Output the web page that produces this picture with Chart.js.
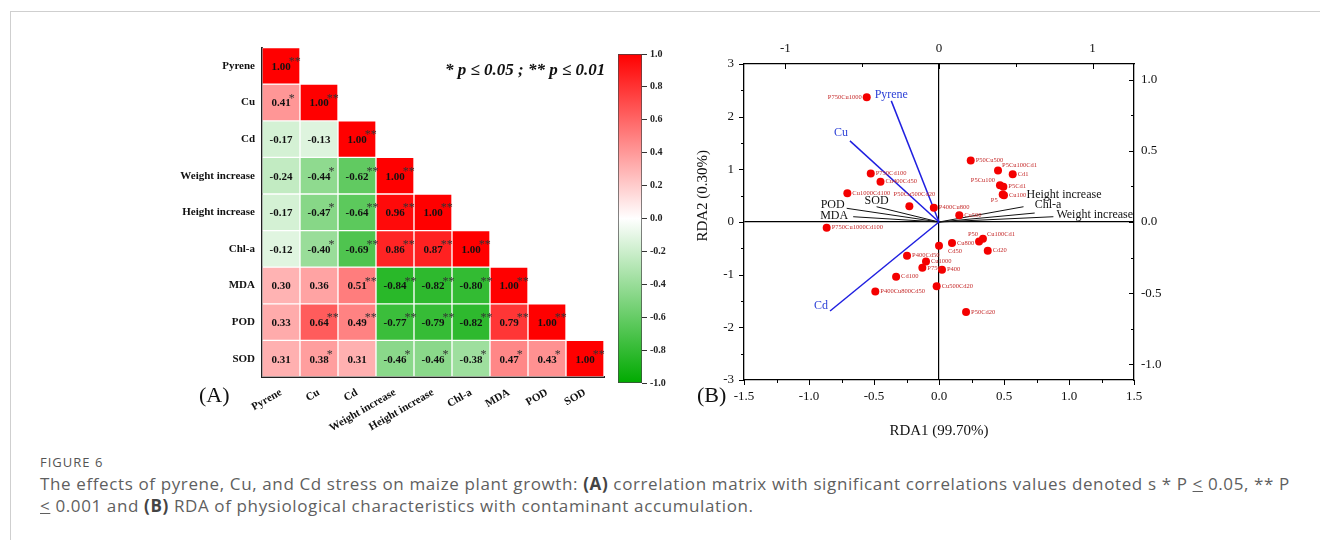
<!DOCTYPE html>
<html>
<head>
<meta charset="utf-8">
<script src="https://cdn.jsdelivr.net/npm/chart.js@4.4.1/dist/chart.umd.min.js"></script>
<style>
html,body{margin:0;padding:0;background:#fff;width:1320px;height:540px;overflow:hidden;}
.abs{position:absolute;}
#frame{left:10px;top:11px;width:1320px;height:540px;border-top:1px solid #cfcfcf;border-left:1px solid #cfcfcf;box-sizing:border-box;}
.serif{font-family:"Liberation Serif","Times New Roman",serif;color:#111;}
#sigNote{left:445px;top:60px;font-size:17px;font-weight:bold;font-style:italic;white-space:nowrap;}
#panelA{left:199px;top:382px;font-size:22px;}
#panelB{left:697px;top:382px;font-size:22px;}
#figt{left:40px;top:453px;font-family:"Open Sans",sans-serif;font-size:13px;color:#555;letter-spacing:1px;}
#capt{left:40px;top:473px;font-family:"Open Sans",sans-serif;font-size:17px;line-height:22px;color:#5f5f5f;white-space:nowrap;}
#capt b{color:#444;}
</style>
</head>
<body>
<div id="frame" class="abs"></div>
<canvas id="matrix" class="abs" style="left:150px;top:34px" width="456" height="406"></canvas>
<canvas id="cbar" class="abs" style="left:610px;top:44px" width="70" height="350"></canvas>
<canvas id="rda" class="abs" style="left:690px;top:30px" width="480" height="410"></canvas>
<div id="sigNote" class="abs serif">* p ≤ 0.05 ; ** p ≤ 0.01</div>
<div id="panelA" class="abs serif">(A)</div>
<div id="panelB" class="abs serif">(B)</div>
<div id="figt" class="abs">FIGURE 6</div>
<div id="capt" class="abs"><span id="line1">The effects of pyrene, Cu, and Cd stress on maize plant growth: <b>(A)</b> correlation matrix with significant correlations values denoted s * P <u>&lt;</u> 0.05, ** P</span><br><u>&lt;</u> 0.001 and <b>(B)</b> RDA of physiological characteristics with contaminant accumulation.</div>
<script>
// ---------------- Panel A data ----------------
const variables = ['Pyrene','Cu','Cd','Weight increase','Height increase','Chl-a','MDA','POD','SOD'];
const corrRows = [
  [1.00],
  [0.41, 1.00],
  [-0.17, -0.13, 1.00],
  [-0.24, -0.44, -0.62, 1.00],
  [-0.17, -0.47, -0.64, 0.96, 1.00],
  [-0.12, -0.40, -0.69, 0.86, 0.87, 1.00],
  [0.30, 0.36, 0.51, -0.84, -0.82, -0.80, 1.00],
  [0.33, 0.64, 0.49, -0.77, -0.79, -0.82, 0.79, 1.00],
  [0.31, 0.38, 0.31, -0.46, -0.46, -0.38, 0.47, 0.43, 1.00]
];
const sigRows = [
  ['**'],
  ['*', '**'],
  ['', '', '**'],
  ['', '*', '**', '**'],
  ['', '*', '**', '**', '**'],
  ['', '*', '**', '**', '**', '**'],
  ['', '', '**', '**', '**', '**', '**'],
  ['', '**', '**', '**', '**', '**', '**', '**'],
  ['', '*', '', '*', '*', '*', '*', '*', '**']
];
const colorbarMin = -1.0;
const colorbarMax = 1.0;
const colorbarStep = 0.2;

// ---------------- Panel B data ----------------
const siteNames = ['P750Cu1000','P750Cd100','Cu400Cd50','Cu1000Cd100','P50Cu500Cd20','P400Cu800','P750Cu1000Cd100',
  'P50Cu500','P5Cu100Cd1','Cd1','P5Cu100','P5Cd1','Cu100','P5','Cu500',
  'P50','Cu100Cd1','Cu800','Cd50','Cd20','P400Cd50','Cu1000','P750','P400','Cd100','Cu500Cd20','P50Cd20','P400Cu800Cd50'];
const siteRDA1 = [-0.556,-0.525,-0.45,-0.705,-0.228,-0.04,-0.864,
  0.244,0.454,0.567,0.469,0.495,0.50,0.49,0.156,
  0.308,0.338,0.10,0.0,0.375,-0.246,-0.10,-0.128,0.023,-0.33,-0.018,0.208,-0.49];
const siteRDA2 = [2.37,0.92,0.765,0.545,0.30,0.27,-0.11,
  1.17,0.98,0.905,0.70,0.67,0.51,0.52,0.13,
  -0.37,-0.32,-0.40,-0.45,-0.545,-0.64,-0.75,-0.87,-0.905,-1.04,-1.22,-1.71,-1.32];
const contaminantNames = ['Pyrene','Cu','Cd'];
const contaminantRDA1 = [-0.367,-0.685,-0.838];
const contaminantRDA2 = [2.30,1.54,-1.69];
const traitNames = ['POD','MDA','SOD','Height increase','Chl-a','Weight increase'];
const traitRDA1 = [-0.71,-0.66,-0.48,0.65,0.736,0.88];
const traitRDA2 = [0.26,0.10,0.29,0.29,0.17,0.10];
const bottomAxisRange = [-1.5, 1.5];
const leftAxisRange = [-3, 3];
const topAxisRange = [-1.27, 1.27];
const rightAxisRange = [-1.11, 1.11];

// ---------------- styles (not data) ----------------
const siteLabelAnchor = ['l','r','r','r','a','r','r',
  'r','ar','r','ul','r','r','bl','r',
  'al','ar','r','br','r','r','r','r','r','r','r','r','r'];
const siteLabelOffsets = {
  r:['left',5,0], l:['right',-5,0], a:['center',5,-12], ar:['left',4,-5],
  ul:['right',-5,-5], bl:['right',-5,6], al:['right',-1,-7], br:['left',9,6]
};
const contaminantLabelOffsets = [['center',0,-6],['right',-2,-8],['right',-2,-5]];
const traitLabelOffsets = [['right',-2,-3],['right',-5,-1],['center',0,-6],['left',3,-12],['left',0,-8],['left',3,-2]];

const SERIF = '"Liberation Serif","Times New Roman",serif';
Chart.defaults.font.family = SERIF;
Chart.defaults.color = '#111';

function corrColor(r){
  const t = Math.min(1, Math.abs(r));
  const end = r >= 0 ? [255,0,0] : [0,170,0];
  const c = end.map(e => Math.round(255 + (e - 255) * t));
  return 'rgb(' + c.join(',') + ')';
}

// ---------------- Panel A: correlation matrix ----------------
const cellText = {
  id: 'cellText',
  afterDatasetsDraw(chart){
    const ctx = chart.ctx;
    ctx.save();
    chart.data.datasets.forEach((ds, i) => {
      const meta = chart.getDatasetMeta(i);
      meta.data.forEach((el, j) => {
        if (j > i) return;
        const c = el.getCenterPoint();
        const txt = corrRows[i][j].toFixed(2);
        ctx.font = 'bold 11px ' + SERIF;
        ctx.fillStyle = '#111';
        ctx.textAlign = 'center';
        ctx.textBaseline = 'middle';
        ctx.fillText(txt, c.x, c.y + 1);
        const tw = ctx.measureText(txt).width;
        const s = sigRows[i][j];
        if (s) {
          ctx.font = '12px ' + SERIF;
          ctx.fillStyle = '#333';
          ctx.textAlign = 'left';
          ctx.fillText(s, c.x + tw / 2 - 2, c.y - 4);
        }
      });
    });
    ctx.restore();
  }
};

new Chart(document.getElementById('matrix'), {
  type: 'bar',
  data: {
    labels: variables,
    datasets: corrRows.map((row, i) => ({
      data: variables.map((_, j) => j <= i ? [i, i + 1] : null),
      backgroundColor: ctx => ctx.dataIndex <= i ? corrColor(corrRows[i][ctx.dataIndex]) : 'rgba(0,0,0,0)',
      borderColor: 'rgba(255,255,255,0.55)',
      borderWidth: 1,
      borderSkipped: false,
      grouped: false,
      barPercentage: 1,
      categoryPercentage: 1
    }))
  },
  options: {
    responsive: false, animation: false, devicePixelRatio: 1,
    layout: { padding: { top: 2, right: 2, left: 0, bottom: 0 } },
    plugins: { legend: { display: false }, tooltip: { enabled: false } },
    scales: {
      x: {
        grid: { display: false, drawTicks: false },
        border: { display: true, color: '#222', width: 2 },
        ticks: { font: { size: 11, weight: 'bold' }, color: '#111', minRotation: 30, maxRotation: 30, padding: 9, autoSkip: false },
        afterFit: s => { s.height = 63; }
      },
      y: {
        type: 'linear', min: 0, max: 9, reverse: true,
        grid: { display: false, drawTicks: false },
        border: { display: true, color: '#222', width: 2 },
        afterBuildTicks: s => { s.ticks = variables.map((_, i) => ({ value: i + 0.5 })); },
        ticks: { font: { size: 11, weight: 'bold' }, color: '#111', padding: 7, autoSkip: false,
          callback: (v, idx) => variables[idx] },
        afterFit: s => { s.width = 112; }
      }
    }
  },
  plugins: [cellText]
});

// ---------------- Colour bar ----------------
new Chart(document.getElementById('cbar'), {
  type: 'bar',
  data: {
    labels: [''],
    datasets: [{
      data: [[colorbarMin, colorbarMax]],
      backgroundColor: ctx => {
        const area = ctx.chart.chartArea;
        if (!area) return '#fff';
        const g = ctx.chart.ctx.createLinearGradient(0, area.bottom, 0, area.top);
        g.addColorStop(0, corrColor(colorbarMin));
        g.addColorStop(0.5, corrColor(0));
        g.addColorStop(1, corrColor(colorbarMax));
        return g;
      },
      borderColor: '#444', borderWidth: 1, borderSkipped: false,
      barPercentage: 1, categoryPercentage: 1
    }]
  },
  options: {
    responsive: false, animation: false, devicePixelRatio: 1,
    layout: { padding: { top: 10, bottom: 11, left: 8, right: 0 } },
    plugins: { legend: { display: false }, tooltip: { enabled: false } },
    scales: {
      x: { display: false },
      y: {
        position: 'right', min: colorbarMin, max: colorbarMax,
        grid: { drawOnChartArea: false, tickLength: 5, color: '#333', tickColor: '#333' },
        border: { display: false },
        ticks: { stepSize: colorbarStep, font: { size: 10, weight: 'bold' }, color: '#222', padding: 3,
          callback: v => (Math.abs(v) < 1e-9 ? 0 : v).toFixed(1) },
        afterFit: s => { s.width = 38; }
      }
    }
  }
});

// ---------------- Panel B: RDA biplot ----------------
const rdaLabels = {
  id: 'rdaLabels',
  afterDatasetsDraw(chart){
    const ctx = chart.ctx, xs = chart.scales.x, ys = chart.scales.y;
    ctx.save();
    ctx.textBaseline = 'middle';
    ctx.font = '6.5px ' + SERIF;
    ctx.fillStyle = '#c52a2a';
    siteNames.forEach((n, i) => {
      const px = xs.getPixelForValue(siteRDA1[i]), py = ys.getPixelForValue(siteRDA2[i]);
      const [al, dx, dy] = siteLabelOffsets[siteLabelAnchor[i]];
      ctx.textAlign = al;
      ctx.fillText(n, px + dx, py + dy);
    });
    ctx.font = '12px ' + SERIF;
    ctx.fillStyle = '#2b3fd6';
    contaminantNames.forEach((n, i) => {
      const px = xs.getPixelForValue(contaminantRDA1[i]), py = ys.getPixelForValue(contaminantRDA2[i]);
      const [al, dx, dy] = contaminantLabelOffsets[i];
      ctx.textAlign = al;
      ctx.fillText(n, px + dx, py + dy);
    });
    ctx.fillStyle = '#111';
    traitNames.forEach((n, i) => {
      const px = xs.getPixelForValue(traitRDA1[i]), py = ys.getPixelForValue(traitRDA2[i]);
      const [al, dx, dy] = traitLabelOffsets[i];
      ctx.textAlign = al;
      ctx.fillText(n, px + dx, py + dy);
    });
    ctx.restore();
  }
};
const tickMarks = {
  id: 'tickMarks',
  afterDraw(chart){
    const ctx = chart.ctx, a = chart.chartArea;
    ctx.save();
    ctx.strokeStyle = '#000';
    ctx.lineWidth = 1;
    const draw = (id, fn) => {
      const s = chart.scales[id];
      s.ticks.forEach(t => {
        const len = (t.label !== '' ? 5 : 3);
        const p = Math.round(s.getPixelForValue(t.value)) + 0.5;
        ctx.beginPath(); fn(p, len); ctx.stroke();
      });
    };
    draw('x', (p, l) => { ctx.moveTo(p, a.bottom); ctx.lineTo(p, a.bottom + l); });
    draw('y', (p, l) => { ctx.moveTo(a.left, p); ctx.lineTo(a.left - l, p); });
    draw('x2', (p, l) => { ctx.moveTo(p, a.top); ctx.lineTo(p, a.top + l); });
    draw('y2', (p, l) => { ctx.moveTo(a.right, p); ctx.lineTo(a.right - l, p); });
    ctx.restore();
  }
};
const zeroGrid = ctx => (ctx.tick && Math.abs(ctx.tick.value) < 1e-9) ? '#000' : 'rgba(0,0,0,0)';
const isMult = (v, m) => Math.abs(v / m - Math.round(v / m)) < 1e-6;

const vectorSets = [
  ...contaminantNames.map((n, i) => ({
    data: [{ x: 0, y: 0 }, { x: contaminantRDA1[i], y: contaminantRDA2[i] }],
    showLine: true, borderColor: '#1f1fe0', borderWidth: 1.5, pointRadius: 0, order: 2
  })),
  ...traitNames.map((n, i) => ({
    data: [{ x: 0, y: 0 }, { x: traitRDA1[i], y: traitRDA2[i] }],
    showLine: true, borderColor: '#111', borderWidth: 1, pointRadius: 0, order: 2
  }))
];

new Chart(document.getElementById('rda'), {
  type: 'scatter',
  data: {
    datasets: [
      {
        data: siteNames.map((n, i) => ({ x: siteRDA1[i], y: siteRDA2[i] })),
        backgroundColor: '#f40000', borderWidth: 0, pointRadius: 4, order: 0
      },
      ...vectorSets
    ]
  },
  options: {
    responsive: false, animation: false, devicePixelRatio: 1,
    layout: { padding: 0 },
    plugins: { legend: { display: false }, tooltip: { enabled: false } },
    scales: {
      x: {
        type: 'linear', position: 'bottom', min: bottomAxisRange[0], max: bottomAxisRange[1],
        grid: { color: zeroGrid, lineWidth: 1.2, drawTicks: false },
        border: { display: true, color: '#000', width: 1.3 },
        ticks: { stepSize: 0.25, autoSkip: false, maxRotation: 0, padding: 9, font: { size: 13 }, color: '#111',
          callback: v => isMult(v, 0.5) ? (Math.abs(v) < 1e-9 ? 0 : v).toFixed(1) : '' },
        title: { display: true, text: 'RDA1 (99.70%)', font: { size: 15 }, color: '#111', padding: { top: 9, bottom: 0 } },
        afterFit: s => { s.height = 60; }
      },
      y: {
        type: 'linear', position: 'left', min: leftAxisRange[0], max: leftAxisRange[1],
        grid: { color: zeroGrid, lineWidth: 1.2, drawTicks: false },
        border: { display: true, color: '#000', width: 1.3 },
        ticks: { stepSize: 0.5, autoSkip: false, padding: 10, font: { size: 13 }, color: '#111',
          callback: v => isMult(v, 1) ? String(Math.round(v)) : '' },
        title: { display: true, text: '\u2003\u2003\u2003\u2002RDA2 (0.30%)', font: { size: 15 }, color: '#111', padding: { top: 4, bottom: 0 } },
        afterFit: s => { s.width = 54; }
      },
      x2: {
        type: 'linear', position: 'top', min: topAxisRange[0], max: topAxisRange[1],
        grid: { drawOnChartArea: false, drawTicks: false },
        border: { display: true, color: '#000', width: 1.3 },
        ticks: { stepSize: 0.5, includeBounds: false, autoSkip: false, maxRotation: 0, padding: 8, font: { size: 13 }, color: '#111',
          callback: v => isMult(v, 1) ? String(Math.round(v)) : '' },
        afterFit: s => { s.height = 34; }
      },
      y2: {
        type: 'linear', position: 'right', min: rightAxisRange[0], max: rightAxisRange[1],
        grid: { drawOnChartArea: false, drawTicks: false },
        border: { display: true, color: '#000', width: 1.3 },
        ticks: { stepSize: 0.25, includeBounds: false, autoSkip: false, padding: 7, font: { size: 13 }, color: '#111',
          callback: v => isMult(v, 0.5) ? (Math.abs(v) < 1e-9 ? 0 : v).toFixed(1) : '' },
        afterFit: s => { s.width = 36; }
      }
    }
  },
  plugins: [rdaLabels, tickMarks]
});

// fit the first caption line to the reference width
(function(){
  const cap = document.getElementById('capt');
  const l1 = document.getElementById('line1');
  const w = l1.getBoundingClientRect().width;
  const n = l1.textContent.length;
  cap.style.letterSpacing = ((1250 - w) / n).toFixed(3) + 'px';
})();
</script>
</body>
</html>
